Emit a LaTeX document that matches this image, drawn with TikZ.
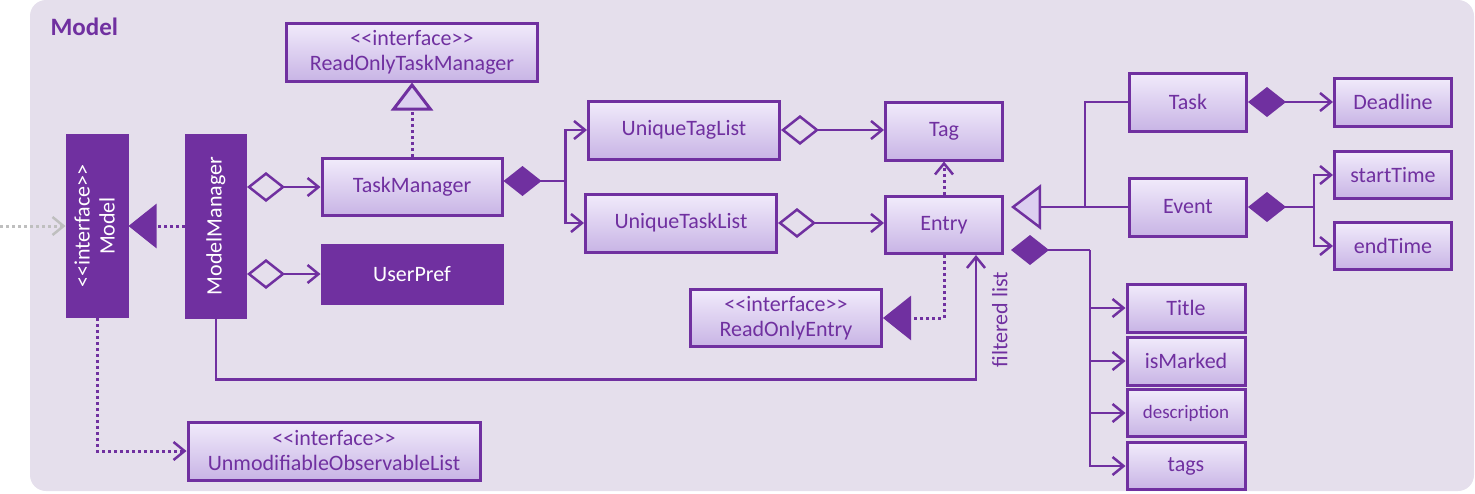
\documentclass[tikz,border=0pt]{standalone}
\usepackage{fontspec}
\setmainfont{Carlito}[Ligatures=TeXOff]
\usepackage{graphicx}
\usetikzlibrary{arrows.meta,calc}
\definecolor{mpurple}{HTML}{7030A0}
\definecolor{mback}{HTML}{E5DFEC}
\definecolor{clstop}{HTML}{F1EBFB}
\definecolor{clsbot}{HTML}{C8B4E5}
\definecolor{clsmid}{HTML}{DCCFF0}
\definecolor{extgray}{HTML}{BFBFBF}
\newcommand{\clsfont}{\fontsize{22}{25}\selectfont}
\newcommand{\attrfont}{\fontsize{19}{22}\selectfont}
\newcommand{\iface}[1]{<<interface>>\\#1}
\tikzset{
  cls/.style     = {draw=mpurple,line width=3pt,top color=clstop,bottom color=clsbot,
                     text=mpurple,font=\clsfont,align=center,inner sep=0pt},
  dcls/.style    = {draw=mpurple,line width=3pt,fill=mpurple,text=white,
                     font=\clsfont,align=center,inner sep=0pt},
  con/.style     = {draw=mpurple,line width=2.5pt},
  dots/.style    = {con,line width=3pt,dash pattern=on 3pt off 3pt},
  assoc/.style   = {con,-{Straight Barb[length=11pt,width=18pt]}},
  agg/.style     = {con,{Diamond[open,length=38pt,width=30pt]}-{Straight Barb[length=11pt,width=18pt]}},
  comp/.style    = {con,{Diamond[length=38pt,width=30pt]}-{Straight Barb[length=11pt,width=18pt]}},
  compbus/.style = {con,{Diamond[length=38pt,width=30pt]}-},
  impl/.style    = {dots,-{Triangle[length=28pt,width=44pt]}},
  implopen/.style= {dots,-{Triangle[length=28pt,width=42pt,fill=clsmid]}},
  gen/.style     = {con,-{Triangle[length=30pt,width=45pt,fill=clsmid]}},
  dep/.style     = {dots,-{Straight Barb[length=11pt,width=18pt,line width=2.5pt]}},
}

\begin{document}
\begin{tikzpicture}[x=1pt,y=-1pt]
  \useasboundingbox (0,0) rectangle (1475,493);
  \fill[mback,rounded corners=16pt] (30,0) rectangle (1474,491);
  \node[anchor=west,text=mpurple,font=\fontsize{25}{30}\selectfont\bfseries] (title) at (47,27) {Model};

  \node[dcls,minimum width=60pt,minimum height=181pt] (Model) at (97,226)
    {\rotatebox{90}{\begin{tabular}{@{}c@{}}<<interface>>\\Model\end{tabular}}};
  \node[dcls,minimum width=59pt,minimum height=182pt] (ModelManager) at (216,226)
    {\rotatebox{90}{ModelManager}};
  \node[cls,minimum width=251pt,minimum height=58pt] (ReadOnlyTaskManager) at (412,52) {\iface{ReadOnlyTaskManager}};
  \node[cls,minimum width=180pt,minimum height=57pt] (TaskManager) at (412,187) {TaskManager};
  \node[dcls,minimum width=180pt,minimum height=58pt] (UserPref) at (412,274) {UserPref};
  \node[cls,minimum width=292pt,minimum height=58pt] (UnmodifiableObservableList) at (334,451) {\iface{UnmodifiableObservableList}};
  \node[cls,minimum width=191pt,minimum height=58pt] (UniqueTagList) at (684,130) {UniqueTagList};
  \node[cls,minimum width=191pt,minimum height=58pt] (UniqueTaskList) at (681,223) {UniqueTaskList};
  \node[cls,minimum width=117pt,minimum height=58pt] (Tag) at (944,131) {Tag};
  \node[cls,minimum width=117pt,minimum height=57pt] (Entry) at (944,225) {Entry};
  \node[cls,minimum width=191pt,minimum height=57pt] (ReadOnlyEntry) at (786,318) {\iface{ReadOnlyEntry}};
  \node[cls,minimum width=117pt,minimum height=58pt] (Task) at (1188,102) {Task};
  \node[cls,minimum width=117pt,minimum height=58pt] (Event) at (1188,207) {Event};
  \node[cls,minimum width=117pt,minimum height=48pt] (Deadline) at (1393,102) {Deadline};
  \node[cls,minimum width=117pt,minimum height=47pt] (startTime) at (1393,175) {startTime};
  \node[cls,minimum width=117pt,minimum height=47pt] (endTime) at (1393,246) {endTime};
  \node[cls,minimum width=118pt,minimum height=48pt] (Title) at (1186,308) {Title};
  \node[cls,minimum width=118pt,minimum height=48pt] (isMarked) at (1186,361) {isMarked};
  \node[cls,minimum width=118pt,minimum height=47pt,font=\attrfont] (description) at (1186,413) {description};
  \node[cls,minimum width=118pt,minimum height=47pt] (tags) at (1186,466) {tags};

  \coordinate (outside) at (0,226);
  \draw[dep,draw=extgray] (outside) -- (Model.west);
  \draw[impl] (ModelManager.west) -- (Model.east);
  \draw[dep] (Model.south) |- (UnmodifiableObservableList.west);
  \draw[agg] (ModelManager.east |- TaskManager.west) -- (TaskManager.west);
  \draw[agg] (ModelManager.east |- UserPref.west) -- (UserPref.west);
  \draw[implopen] (TaskManager.north) -- (ReadOnlyTaskManager.south);

  \coordinate (tmc) at ($(TaskManager.east)+(0,-6)$);
  \coordinate (tmbus) at ($(tmc)+(62,0)$);
  \draw[compbus] (tmc) -- (tmbus);
  \draw[assoc] (tmbus) |- (UniqueTagList.west);
  \draw[assoc] (tmbus) |- (UniqueTaskList.west);
  \draw[agg] (UniqueTagList.east) -- (UniqueTagList.east -| Tag.west);
  \draw[agg] (UniqueTaskList.east) -- (UniqueTaskList.east -| Entry.west);
  \draw[dep] (Entry.north) -- (Tag.south);
  \draw[impl] (Entry.south) |- (ReadOnlyEntry.east);
  \draw[assoc] (ModelManager.south) -- ++(0,61) -| ([xshift=32pt]Entry.south)
    node[pos=0.74,rotate=90,anchor=north,inner sep=5pt,outer sep=11pt,text=mpurple,font=\clsfont] (filtered) {filtered list};

  \coordinate (genapex) at ($(Entry.east |- Event.west)+(7,0)$);
  \draw[gen] (Event.west) -- (genapex);
  \draw[con] (Task.west) -| ($(genapex)+(74,0)$);
  \draw[comp] (Task.east) -- (Deadline.west);
  \coordinate (evbus) at ($(Event.east)+(66,0)$);
  \draw[compbus] (Event.east) -- (evbus);
  \draw[assoc] (evbus) |- (startTime.west);
  \draw[assoc] (evbus) |- (endTime.west);

  \coordinate (ec) at ($(Entry.south east)+(7,-5)$);
  \coordinate (ebus) at ($(ec)+(79,0)$);
  \draw[compbus] (ec) -- (ebus);
  \draw[assoc] (ebus) |- (tags.west);
  \foreach \a in {Title,isMarked,description}
    \draw[assoc] (ebus |- \a.west) -- (\a.west);
\end{tikzpicture}
\end{document}
